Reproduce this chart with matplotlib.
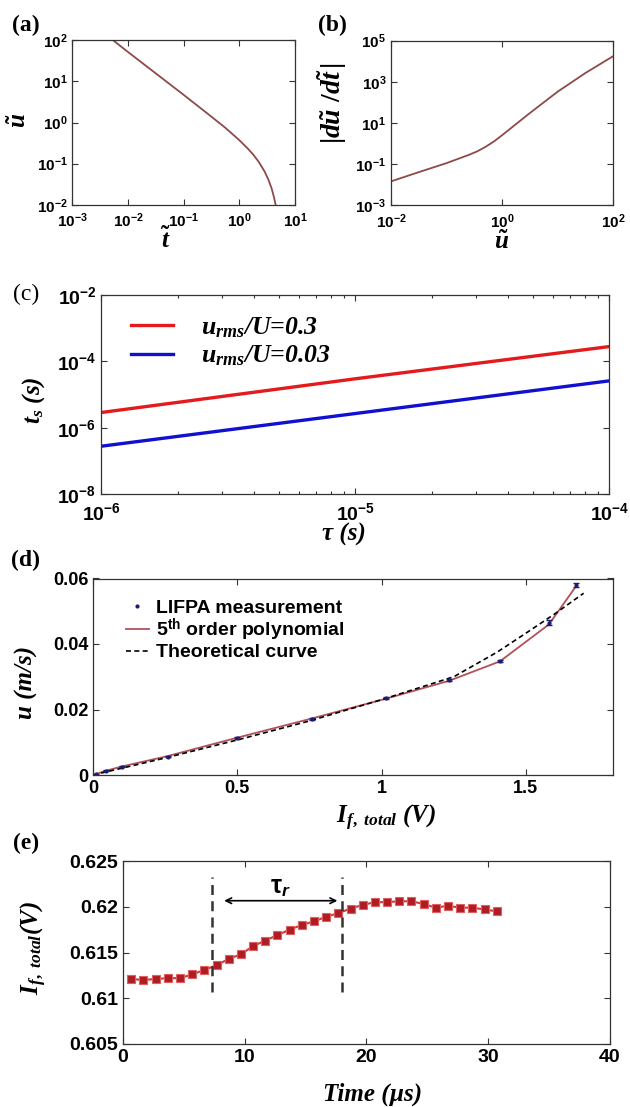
import numpy as np
import matplotlib
matplotlib.use("Agg")
import matplotlib.pyplot as plt
from matplotlib.lines import Line2D
from matplotlib.ticker import NullLocator, LogLocator

# ---------------- data ----------------
# (a) u~ vs t~
a_t = [0.00501, 0.010, 0.0316, 0.10, 0.316, 0.562, 1.0, 1.413, 1.778, 2.239, 2.818,
       3.311, 3.802, 4.169, 4.571]
a_u = [107, 51.3, 15.5, 4.68, 1.38, 0.741, 0.372, 0.234, 0.166, 0.110, 0.0661,
       0.0417, 0.0251, 0.0158, 0.0089]
# (b) |du~/dt~| vs u~
b_u = [0.01, 0.0316, 0.1, 0.178, 0.251, 0.355, 0.501, 0.708, 1.0, 1.778, 3.162, 10,
       31.62, 100]
b_g = [0.0141, 0.0398, 0.1096, 0.195, 0.275, 0.407, 0.676, 1.23, 2.51, 8.71, 30.2, 331,
       2692, 17783]
# (c) t_s vs tau
c_tau = [1e-6, 1e-5, 1e-4]
c_red = [2.9e-6, 3.0e-5, 2.8e-4]
c_blue = [2.8e-7, 2.7e-6, 2.6e-5]
c_labels = ["u$_{rms}$/U=0.3", "u$_{rms}$/U=0.03"]
# (d) LIFPA
d_x = [0.01, 0.045, 0.10, 0.26, 0.50, 0.76, 1.015, 1.235, 1.41, 1.58, 1.675]
d_y = [0.0002, 0.0013, 0.0025, 0.0056, 0.0112, 0.0170, 0.0234, 0.0290, 0.0349, 0.0465, 0.0580]
d_err = [0.0002, 0.0002, 0.0002, 0.0002, 0.0003, 0.0003, 0.0003, 0.0002, 0.0003, 0.0007, 0.0006]
d_poly = [0.0003, 0.0013, 0.0026, 0.0058, 0.0114, 0.0173, 0.0233, 0.0288, 0.0347, 0.0460, 0.0578]
d_theo_x = [0.0, 0.25, 0.5, 0.75, 1.0, 1.1, 1.25, 1.4, 1.5, 1.6, 1.7]
d_theo_y = [0.0, 0.0052, 0.0107, 0.0165, 0.0230, 0.0258, 0.0300, 0.0375, 0.0433, 0.0492, 0.0555]
d_legend = ["LIFPA measurement", r"$\mathbf{5}^{\mathbf{th}}$ order polynomial", "Theoretical curve"]
d_xticks = [0, 0.5, 1, 1.5]
d_xticklabels = ["0", "0.5", "1", "1.5"]
d_yticks = [0, 0.02, 0.04, 0.06]
d_yticklabels = ["0", "0.02", "0.04", "0.06"]
# (e) time trace
e_t = [0.7, 1.7, 2.7, 3.7, 4.7, 5.7, 6.7, 7.7, 8.7, 9.7, 10.7, 11.7, 12.7, 13.7, 14.7,
       15.7, 16.7, 17.7, 18.7, 19.7, 20.7, 21.7, 22.7, 23.7, 24.7, 25.7, 26.7, 27.7,
       28.7, 29.7, 30.7]
e_I = [0.6121, 0.6120, 0.6121, 0.6122, 0.6122, 0.6126, 0.6131, 0.6136, 0.6143, 0.6148,
       0.6157, 0.6163, 0.6169, 0.6175, 0.6180, 0.6184, 0.6189, 0.6193, 0.6198, 0.6202,
       0.6205, 0.6205, 0.6206, 0.6206, 0.6203, 0.6199, 0.6201, 0.6199, 0.6199, 0.6197,
       0.6195]
e_marks = [7.35, 18.0]
e_mark_span = [0.6107, 0.6232]
e_arrow = [8.1, 17.85, 0.62066]
e_label_y = 0.6222
e_xticks = [0, 10, 20, 30, 40]
e_xticklabels = ["0", "10", "20", "30", "40"]
e_yticks = [0.605, 0.61, 0.615, 0.62, 0.625]
e_yticklabels = ["0.605", "0.61", "0.615", "0.62", "0.625"]

# ---------------- style ----------------
plt.rcParams['font.family'] = ['Liberation Sans', 'DejaVu Sans']
plt.rcParams['font.weight'] = 'bold'
plt.rcParams['mathtext.fontset'] = 'custom'
plt.rcParams['mathtext.rm'] = 'Liberation Serif:bold'
plt.rcParams['mathtext.it'] = 'Liberation Serif:italic:bold'
plt.rcParams['mathtext.bf'] = 'Liberation Sans:bold'
plt.rcParams['mathtext.sf'] = 'Liberation Sans:italic:bold'
plt.rcParams['axes.linewidth'] = 0.9
plt.rcParams['axes.edgecolor'] = '#333333'

W, H = 630, 1107
fig = plt.figure(figsize=(W / 100, H / 100), dpi=100)

SERIF = ['Liberation Serif', 'DejaVu Serif']
SANS = ['Liberation Sans', 'DejaVu Sans']


def rect(l, t, r, b):
    return [l / W, 1 - b / H, (r - l) / W, (b - t) / H]


def ftext(x, y, s, size=17, rot=0):
    fig.text(x / W, 1 - y / H, s, fontsize=size, rotation=rot, ha='center', va='center',
             family=SERIF, weight='bold', style='italic')


def style_ax(ax, size, xpad=3.5):
    ax.tick_params(which='both', direction='in', top=True, right=True, labelsize=size,
                   color='#333333', width=0.8)
    ax.tick_params(which='major', length=4)
    ax.tick_params(which='minor', length=2.5)
    ax.tick_params(axis='x', pad=xpad)


def logfmt(vals):
    return [r'$\mathbf{10^{%d}}$' % int(round(np.log10(v))) for v in vals]


line_col = '#8c4a4a'

# (a)
axa = fig.add_axes(rect(72.4, 40.1, 295, 204.9))
axa.loglog(a_t, a_u, color=line_col, lw=1.3)
axa.set_xlim(1e-3, 10)
axa.set_ylim(1e-2, 1e2)
xt = [1e-3, 1e-2, 1e-1, 1, 10]
yt = [1e-2, 1e-1, 1, 10, 100]
axa.set_xticks(xt, logfmt(xt))
axa.set_yticks(yt, logfmt(yt))
axa.xaxis.set_minor_locator(NullLocator())
axa.yaxis.set_minor_locator(NullLocator())
style_ax(axa, 11, xpad=5)

# (b)
axb = fig.add_axes(rect(391, 40.7, 613.3, 205))
axb.loglog(b_u, b_g, color=line_col, lw=1.3)
axb.set_xlim(1e-2, 1e2)
axb.set_ylim(1e-3, 1e5)
xt = [1e-2, 1, 1e2]
yt = [1e-3, 1e-1, 1e1, 1e3, 1e5]
axb.set_xticks(xt, logfmt(xt))
axb.set_yticks(yt, logfmt(yt))
axb.xaxis.set_minor_locator(NullLocator())
axb.yaxis.set_minor_locator(NullLocator())
style_ax(axb, 11, xpad=5)

# (c)
axc = fig.add_axes(rect(101.2, 295, 609.2, 494.3))
axc.loglog(c_tau, c_red, color='#e41a1c', lw=2.4, label=c_labels[0])
axc.loglog(c_tau, c_blue, color='#1010d0', lw=2.4, label=c_labels[1])
axc.set_xlim(1e-6, 1e-4)
axc.set_ylim(1e-8, 1e-2)
xt = [1e-6, 1e-5, 1e-4]
yt = [1e-8, 1e-6, 1e-4, 1e-2]
axc.set_xticks(xt, logfmt(xt))
axc.set_yticks(yt, logfmt(yt))
axc.xaxis.set_minor_locator(LogLocator(base=10, subs=np.arange(2, 10)))
axc.yaxis.set_minor_locator(NullLocator())
style_ax(axc, 14, xpad=6)
axc.legend(loc='upper left', bbox_to_anchor=(0.014, 1.015), frameon=False,
           handlelength=1.6, handletextpad=1.1, labelspacing=0.15,
           prop=dict(family=SERIF, weight='bold', style='italic', size=18.5))

# (d)
axd = fig.add_axes(rect(93, 578.5, 612.5, 775))
axd.plot(d_x, d_poly, color='#b0505a', lw=1.3)
axd.plot(d_theo_x, d_theo_y, color='black', lw=1.2, ls=(0, (3, 2)))
axd.errorbar(d_x, d_y, yerr=d_err, fmt='.', color='#1c1c70', ms=4, capsize=2.5,
             elinewidth=1, capthick=1)
axd.set_xlim(0, 1.8)
axd.set_ylim(0, 0.06)
axd.set_xticks(d_xticks, d_xticklabels)
axd.set_yticks(d_yticks, d_yticklabels)
style_ax(axd, 13)
hd = [Line2D([], [], ls='none', marker='.', color='#1c1c70', ms=4),
      Line2D([], [], color='#b0505a', lw=1.3),
      Line2D([], [], color='black', lw=1.2, ls=(0, (3, 2)))]
axd.legend(hd, d_legend, loc='upper left', bbox_to_anchor=(0.029, 0.985), frameon=False,
           handlelength=1.2, handletextpad=0.35, labelspacing=0.0,
           prop=dict(family=SANS, weight='bold', size=14))

# (e)
axe = fig.add_axes(rect(122.7, 861, 610, 1044))
axe.plot(e_t, e_I, color='#d03a3a', lw=1.5, marker='s', ms=6,
         mfc='#b01c24', mec='#e06060', mew=0.8)
for xv in e_marks:
    axe.plot([xv, xv], e_mark_span, color='#333333', lw=1.8, ls=(0, (4, 2.5)))
axe.annotate('', xy=(e_arrow[1], e_arrow[2]), xytext=(e_arrow[0], e_arrow[2]),
             arrowprops=dict(arrowstyle='<->', color='black', lw=1.2))
axe.text((e_arrow[0] + e_arrow[1]) / 2, e_label_y, r'τ$_{\mathsf{r}}$', fontsize=18,
         ha='center', va='center', family=SANS, weight='bold')
axe.set_xlim(0, 40)
axe.set_ylim(0.605, 0.625)
axe.set_xticks(e_xticks, e_xticklabels)
axe.set_yticks(e_yticks, e_yticklabels)
style_ax(axe, 14)

# labels
ftext(19, 120, r'$\tilde{u}$', size=18, rot=90)
ftext(166, 240, r'$\tilde{t}$', size=18)
ftext(332, 103, r'$|d\tilde{u}\ /d\tilde{t}\,|$', size=20, rot=90)
ftext(502, 242, r'$\tilde{u}$', size=18)
ftext(34, 400, 't$_s$ (s)', size=18, rot=90)
ftext(344, 534, 'τ (s)', size=18)
ftext(26, 682, 'u (m/s)', size=18, rot=90)
ftext(386, 818, r'I$_{f,\ total}$ (V)', size=18)
ftext(34, 948, r'I$_{f,\ total}$(V)', size=18, rot=90)
ftext(373, 1094, 'Time (µs)', size=18)

for x, y, s, w in [(26, 25, '(a)', 'bold'), (332, 25, '(b)', 'bold'), (26, 294, '(c)', 'normal'),
                   (26, 560, '(d)', 'bold'), (26, 843, '(e)', 'bold')]:
    fig.text(x / W, 1 - y / H, s, fontsize=17, ha='center', va='center',
             family=SERIF, weight=w)

fig.savefig('out.png', dpi=100)
